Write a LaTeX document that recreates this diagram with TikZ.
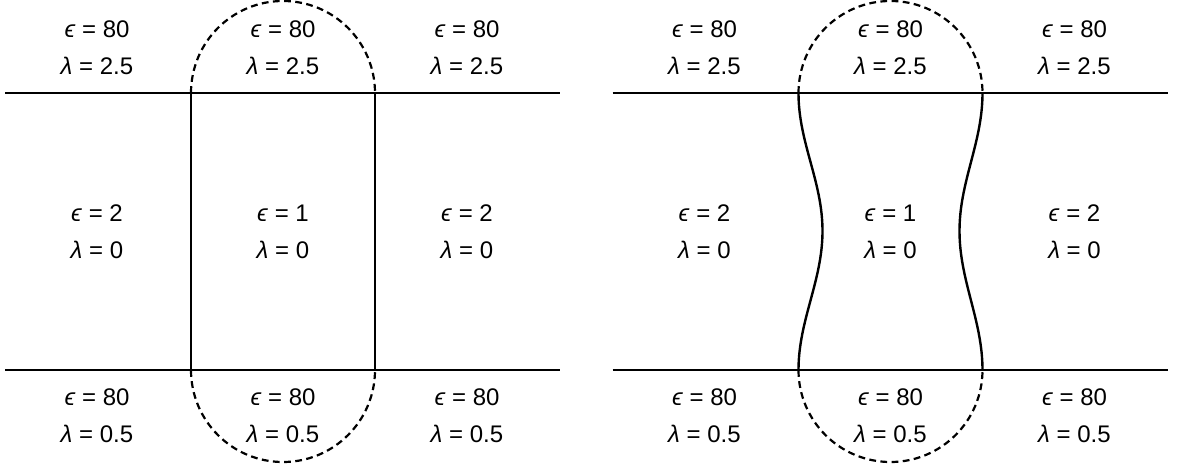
\documentclass[tikz,border=0pt]{standalone}
\usepackage{fontspec}
\setmainfont{Liberation Sans}
\usepackage{tikz}
\newcommand{\eps}{\textit{ϵ}}
\newcommand{\lam}{\textit{λ}}
\tikzset{
  region/.style={font=\fontsize{12}{18.5}\selectfont, align=center, inner sep=0pt},
  bound/.style={line width=1.2pt, color=black},
  cavity/.style={line width=1.1pt, dash pattern=on 3.4pt off 2.2pt},
}
\begin{document}
\begin{tikzpicture}[x=0.5pt, y=0.5pt]
\useasboundingbox (0,0) rectangle (1179,467);
% left panel: straight cavity
\draw[bound] (5,374) -- (560,374);
\draw[bound] (5,97) -- (560,97);
\draw[bound] (191,374) -- (191,97);
\draw[bound] (375,374) -- (375,97);
\draw[cavity] (191,374) arc[start angle=180, end angle=0, radius=92];
\draw[cavity] (191,97) arc[start angle=180, end angle=360, radius=92];
\node[region] (lTopL) at (97,419) {\eps{} = 80\\\lam{} = 2.5};
\node[region] (lTopC) at (283,419) {\eps{} = 80\\\lam{} = 2.5};
\node[region] (lTopR) at (467,419) {\eps{} = 80\\\lam{} = 2.5};
\node[region] (lMidL) at (97,235) {\eps{} = 2\\\lam{} = 0};
\node[region] (lMidC) at (283,235) {\eps{} = 1\\\lam{} = 0};
\node[region] (lMidR) at (467,235) {\eps{} = 2\\\lam{} = 0};
\node[region] (lBotL) at (97,51) {\eps{} = 80\\\lam{} = 0.5};
\node[region] (lBotC) at (283,51) {\eps{} = 80\\\lam{} = 0.5};
\node[region] (lBotR) at (467,51) {\eps{} = 80\\\lam{} = 0.5};
% right panel: pinched cavity
\begin{scope}[shift={(607.5,0)}]
\draw[bound] (5,374) -- (560,374);
\draw[bound] (5,97) -- (560,97);
\draw[bound] (191,374) .. controls (191,324) and (215,286) .. (215,236)
  .. controls (215,186) and (191,147) .. (191,97);
\draw[bound] (375,374) .. controls (375,324) and (352,286) .. (352,236)
  .. controls (352,186) and (375,147) .. (375,97);
\draw[cavity] (191,374) arc[start angle=180, end angle=0, radius=92];
\draw[cavity] (191,97) arc[start angle=180, end angle=360, radius=92];
\node[region] (rTopL) at (97,419) {\eps{} = 80\\\lam{} = 2.5};
\node[region] (rTopC) at (283,419) {\eps{} = 80\\\lam{} = 2.5};
\node[region] (rTopR) at (467,419) {\eps{} = 80\\\lam{} = 2.5};
\node[region] (rMidL) at (97,235) {\eps{} = 2\\\lam{} = 0};
\node[region] (rMidC) at (283,235) {\eps{} = 1\\\lam{} = 0};
\node[region] (rMidR) at (467,235) {\eps{} = 2\\\lam{} = 0};
\node[region] (rBotL) at (97,51) {\eps{} = 80\\\lam{} = 0.5};
\node[region] (rBotC) at (283,51) {\eps{} = 80\\\lam{} = 0.5};
\node[region] (rBotR) at (467,51) {\eps{} = 80\\\lam{} = 0.5};
\end{scope}
\end{tikzpicture}
\end{document}
